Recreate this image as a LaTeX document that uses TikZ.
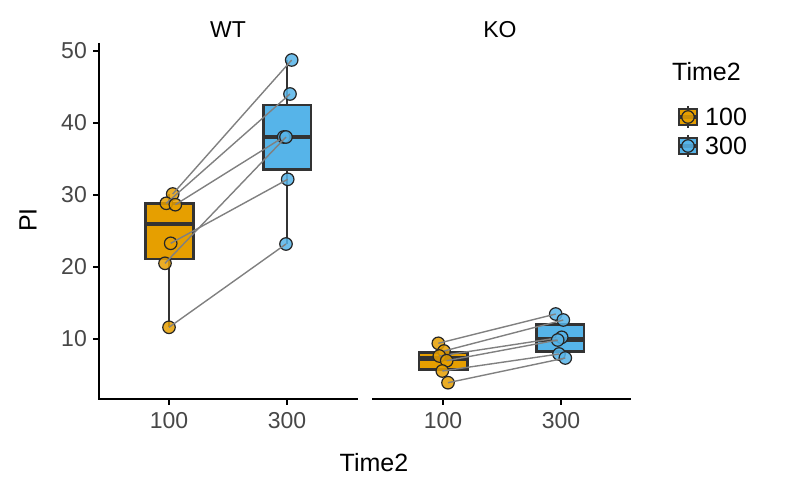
\documentclass[tikz,border=0pt]{standalone}
\usepackage{fontspec}
\setmainfont{Liberation Sans}
\begin{document}
\begin{tikzpicture}[x=1pt,y=-1pt,
  lab/.style={font=\fontsize{23}{23}\selectfont, text=black!72, inner sep=0},
  ttl/.style={font=\fontsize{25}{25}\selectfont, inner sep=0},
  bx/.style={draw=black!80, line width=2.8pt},
  pt/.style={circle, draw=black!85, line width=1.2pt, minimum size=12.5pt, inner sep=0, fill opacity=0.85},
  po/.style={pt, fill=orng},
  pb/.style={pt, fill=skyb},
  cn/.style={draw=black!50, line width=1.4pt},
  ax/.style={line width=2pt}]
\definecolor{orng}{HTML}{E69F00}
\definecolor{skyb}{HTML}{56B4E9}
\useasboundingbox (0,0) rectangle (799,494);
% axes
\draw[ax] (99,43) -- (99,399) -- (358,399);
\draw[ax] (372,399) -- (631,399);
\foreach \v/\y in {50/51,40/123,30/195,20/267,10/339}{
  \draw[ax] (93,\y) -- (99,\y);
  \node[lab, anchor=east] (y\v) at (87,\y) {\v};}
\foreach \x/\t in {169/100,287/300,443/100,561/300}{
  \draw[ax] (\x,399) -- (\x,405);
  \node[lab, anchor=north] (x\x) at (\x,412) {\t};}
\node[ttl, rotate=90] (ylab) at (28,220) {PI};
\node[ttl] (xlab) at (374,463) {Time2};
\node[lab, text=black] (wt) at (228,30) {WT};
\node[lab, text=black] (ko) at (500,30) {KO};
% WT boxes
\draw[bx] (169,194) -- (169,327);
\filldraw[bx, fill=orng] (145.7,203.3) rectangle (193.3,259);
\draw[bx, line width=4.5pt] (145.7,224) -- (193.3,224);
\draw[bx] (287,60) -- (287,244);
\filldraw[bx, fill=skyb] (263.3,105) rectangle (311,169.3);
\draw[bx, line width=4.5pt] (263.3,137) -- (311,137);
% KO boxes
\filldraw[bx, fill=orng] (419,352.3) rectangle (467.3,369.3);
\draw[bx, line width=4.5pt] (419,358.3) -- (467.3,358.3);
\filldraw[bx, fill=skyb] (536.7,324.3) rectangle (584,351.7);
\draw[bx, line width=4.5pt] (536.7,339.3) -- (584,339.3);
% WT points
\foreach \i/\ax/\ay/\bx/\by in {1/172.7/194/291.7/60, 2/166.3/203.3/290/94, 3/175.3/204.7/283.7/137, 4/170.7/243.3/287.7/179.3, 5/165/263.3/286/137, 6/169/327.3/286/244}{
  \node[po] (wa\i) at (\ax,\ay) {};
  \node[pb] (wb\i) at (\bx,\by) {};
  \draw[cn] (wa\i.center) -- (wb\i.center);}
% KO points
\foreach \i/\ax/\ay/\bx/\by in {1/438.3/343.3/555.7/314, 2/444/351/563.3/320, 3/439.3/356/561.7/337.3, 4/446.7/360.7/557.7/340, 5/442.3/371/559/354, 6/448/382.7/565.3/358}{
  \node[po] (ka\i) at (\ax,\ay) {};
  \node[pb] (kb\i) at (\bx,\by) {};
  \draw[cn] (ka\i.center) -- (kb\i.center);}
% legend
\node[ttl, anchor=west] (lt) at (672,72) {Time2};
\foreach \c/\y/\t in {orng/117/100,skyb/146/300}{
  \draw[bx, line width=2pt] (688,\y-11) -- (688,\y+11);
  \filldraw[bx, line width=2pt, fill=\c] (679,\y-8) rectangle (697,\y+8);
  \draw[bx, line width=3.5pt] (679,\y) -- (697,\y);
  \node[pt, fill=\c] (lk\t) at (688,\y) {};
  \node[ttl, anchor=west] (ll\t) at (705,\y) {\t};}
\end{tikzpicture}
\end{document}
